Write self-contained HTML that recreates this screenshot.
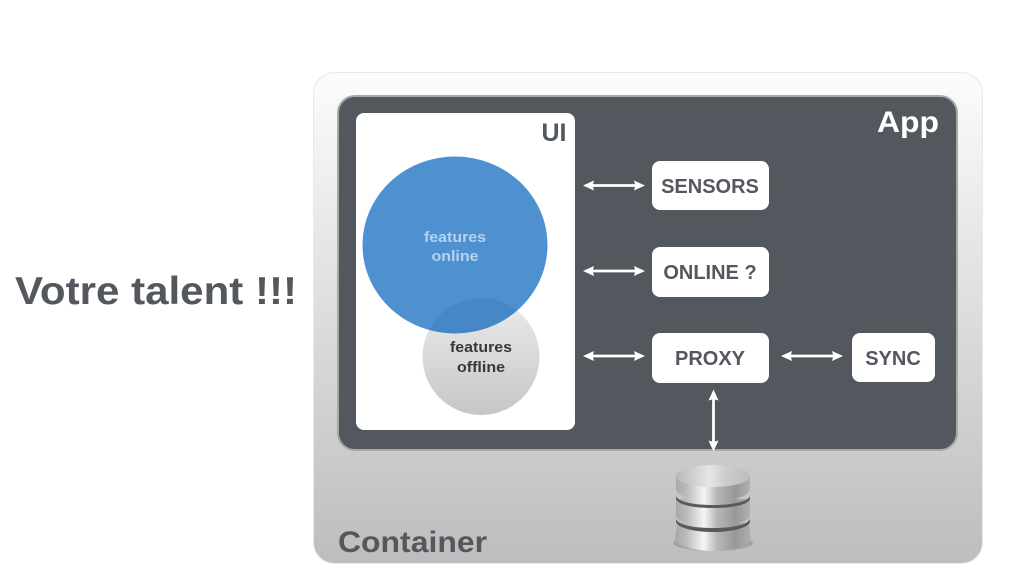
<!DOCTYPE html>
<html><head><meta charset="utf-8"><style>
html,body{margin:0;padding:0;background:#fff}
svg{display:block}
text{font-family:"Liberation Sans",sans-serif;font-weight:bold;text-anchor:middle}
</style></head><body>
<svg width="1024" height="576" viewBox="0 0 1024 576" xmlns="http://www.w3.org/2000/svg">
<defs>
<linearGradient id="c" x1="0" y1="0" x2="0" y2="1"><stop offset="0" stop-color="#fcfcfc"/><stop offset="1" stop-color="#bdbdbd"/></linearGradient>
<linearGradient id="g" x1="0" y1="0" x2="0" y2="1"><stop offset="0" stop-color="#ececec"/><stop offset="1" stop-color="#c6c6c6"/></linearGradient>
<linearGradient id="m" x1="0" y1="0" x2="1" y2="0"><stop offset="0" stop-color="#a8a8a8"/><stop offset=".15" stop-color="#bcbcbc"/><stop offset=".38" stop-color="#f6f6f6"/><stop offset=".55" stop-color="#b8b8b8"/><stop offset=".8" stop-color="#989898"/><stop offset="1" stop-color="#b0b0b0"/></linearGradient>
<linearGradient id="t" x1="0" y1="0" x2="1" y2="0"><stop offset="0" stop-color="#b8b8b8"/><stop offset=".45" stop-color="#e6e6e6"/><stop offset=".65" stop-color="#cecece"/><stop offset="1" stop-color="#bcbcbc"/></linearGradient>
<clipPath id="off"><circle cx="481" cy="356.500" r="58.500"/></clipPath>
<g id="ah"><path d="M-31 0L-20 -5L-21 -1.400H21L20 -5L31 0L20 5L21 1.400H-21L-20 5Z" fill="#fff"/></g>
</defs>
<rect width="1024" height="576" fill="#fff"/>
<rect x="313.500" y="72.500" width="669" height="491" rx="21" fill="url(#c)" stroke="#e9e9e9"/>
<rect x="338" y="96" width="619" height="354" rx="17" fill="#53575e" stroke="#a8a8a8" stroke-width="2"/>
<rect x="356" y="113" width="219" height="317" rx="8" fill="#fff"/>
<circle cx="481" cy="356.500" r="58.500" fill="url(#g)"/>
<ellipse cx="455" cy="245" rx="92.500" ry="88.500" fill="#3c85cb" fill-opacity=".9"/>
<ellipse cx="455" cy="245" rx="92.500" ry="88.500" fill="#1f5f9f" fill-opacity=".14" clip-path="url(#off)"/>
<text x="455" y="242" font-size="15" fill="#b5d3ef" textLength="62" lengthAdjust="spacingAndGlyphs">features</text>
<text x="455" y="261" font-size="15" fill="#b5d3ef" textLength="47" lengthAdjust="spacingAndGlyphs">online</text>
<text x="481" y="352" font-size="15" fill="#35383d" textLength="62" lengthAdjust="spacingAndGlyphs">features</text>
<text x="481" y="372" font-size="15" fill="#35383d" textLength="48" lengthAdjust="spacingAndGlyphs">offline</text>
<text x="554" y="141" font-size="25" fill="#53575e">UI</text>
<text x="908" y="132" font-size="30" fill="#fff" textLength="62" lengthAdjust="spacingAndGlyphs">App</text>
<text x="412.500" y="552" font-size="30" fill="#53575e" textLength="149" lengthAdjust="spacingAndGlyphs">Container</text>
<text x="156" y="304" font-size="39" fill="#53575e" textLength="282" lengthAdjust="spacingAndGlyphs">Votre talent !!!</text>
<rect x="652" y="161" width="117" height="49" rx="8" fill="#fff"/>
<rect x="652" y="247" width="117" height="50" rx="8" fill="#fff"/>
<rect x="652" y="333" width="117" height="50" rx="8" fill="#fff"/>
<rect x="852" y="333" width="83" height="49" rx="8" fill="#fff"/>
<text x="710" y="193" font-size="20" fill="#53575e">SENSORS</text>
<text x="710" y="279" font-size="20" fill="#53575e">ONLINE ?</text>
<text x="710" y="365" font-size="20" fill="#53575e">PROXY</text>
<text x="893" y="365" font-size="20" fill="#53575e">SYNC</text>
<use href="#ah" x="614" y="185.500"/>
<use href="#ah" x="614" y="271"/>
<use href="#ah" x="614" y="356"/>
<use href="#ah" x="812" y="356"/>
<use href="#ah" transform="translate(713.500 420.500) rotate(90)"/>
<ellipse cx="713" cy="543" rx="40" ry="8" fill="#888" opacity=".5"/>
<path d="M677 523L675 540C678 546 694 551 713 551S748 546 751 540L749 523Z" fill="url(#m)"/>
<path d="M676 519C678 525 694 528 713 528S748 525 750 519V522C748 528 732 532 713 532S678 528 676 522Z" fill="#5a5a5a"/>
<path d="M676 499V516C678 522 694 526 713 526S748 522 750 516V499Z" fill="url(#m)"/>
<path d="M676 496C678 502 694 505 713 505S748 502 750 496V499C748 505 732 508 713 508S678 505 676 499Z" fill="#5a5a5a"/>
<path d="M676 476V490C678 496 694 502 713 502S748 496 750 490V476Z" fill="url(#m)"/>
<ellipse cx="713" cy="476" rx="37" ry="11" fill="url(#t)"/>
</svg>
</body></html>
